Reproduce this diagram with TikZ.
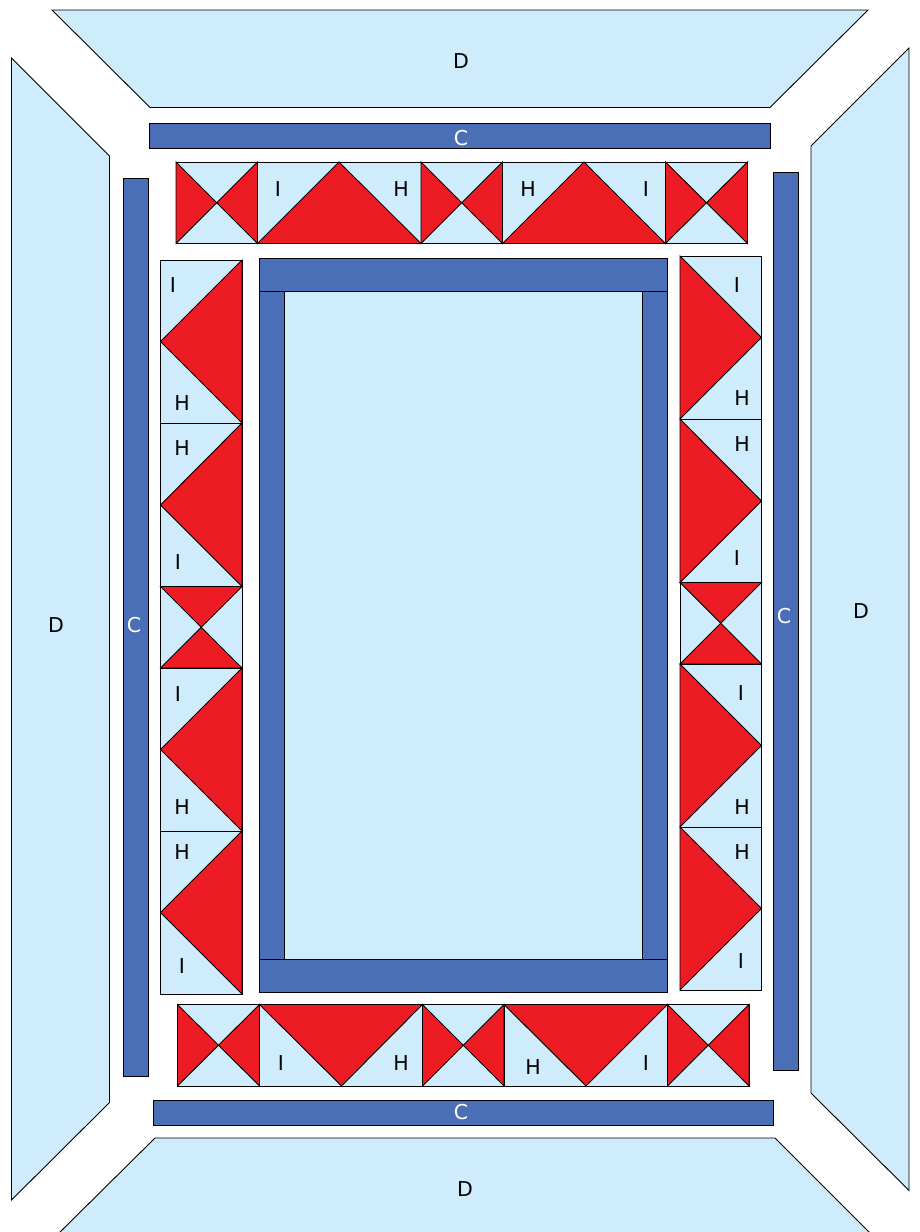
\documentclass[tikz,border=0pt]{standalone}
\usepackage{fontspec}
\setmainfont{DejaVu Sans}
\definecolor{palefill}{HTML}{CFECFD}
\definecolor{redfill}{HTML}{ED1C24}
\definecolor{bluefill}{HTML}{4A6FB6}
\tikzset{
  palepart/.style={draw=black,line width=0.9pt,line join=miter,fill=palefill},
  redpart/.style={draw=black,line width=0.9pt,line join=miter,fill=redfill},
  bluepart/.style={draw=black,line width=0.9pt,fill=bluefill},
  darklabel/.style={font=\fontsize{20.5}{22}\selectfont,text=black,inner sep=0pt},
  lightlabel/.style={font=\fontsize{20.5}{22}\selectfont,text=white,inner sep=0pt}
}
% #1,#2 top-left, #3,#4 bottom-right
\newcommand{\bowtiesides}[4]{%
  \path[palepart] (#1,#2) rectangle (#3,#4);
  \path[redpart] (#1,#2) -- ({(#1+#3)/2},{(#2+#4)/2}) -- (#1,#4) -- cycle;
  \path[redpart] (#3,#2) -- ({(#1+#3)/2},{(#2+#4)/2}) -- (#3,#4) -- cycle;}
\newcommand{\bowtieends}[4]{%
  \path[palepart] (#1,#2) rectangle (#3,#4);
  \path[redpart] (#1,#2) -- ({(#1+#3)/2},{(#2+#4)/2}) -- (#3,#2) -- cycle;
  \path[redpart] (#1,#4) -- ({(#1+#3)/2},{(#2+#4)/2}) -- (#3,#4) -- cycle;}
% #5,#6 apex; #7,#8 and #9 base corners
\newcommand{\goose}[8]{%
  \path[palepart] (#1,#2) rectangle (#3,#4);
  \path[redpart] (#5,#6) -- (#7) -- (#8) -- cycle;}
\begin{document}
\begin{tikzpicture}[x=1pt,y=-1pt]
\useasboundingbox (0,0) rectangle (919,1232);
\clip (0,0) rectangle (919,1232);
% outer border
\path[palepart] (52,10) -- (868,10) -- (770,107.5) -- (150,107.5) -- cycle;
\path[palepart] (11.5,58) -- (109.5,156) -- (109.5,1102.5) -- (11.5,1200) -- cycle;
\path[palepart] (909,48) -- (811,146) -- (811,1093) -- (909,1190.5) -- cycle;
\path[palepart] (155,1138) -- (775,1138) -- (877,1240) -- (52,1240) -- cycle;
% strips
\path[bluepart] (149.5,123.5) rectangle (770,148);
\path[bluepart] (123.5,178.5) rectangle (148,1076);
\path[bluepart] (773.5,172.5) rectangle (798.5,1070);
\path[bluepart] (153,1100.5) rectangle (773.5,1125);
% top row
\bowtiesides{176}{162}{257.5}{243.5}
\goose{257.5}{162}{421}{243.5}{339}{162}{257.5,243.5}{421,243.5}
\bowtiesides{421}{162}{502.5}{243.5}
\goose{502.5}{162}{665.5}{243.5}{584}{162}{502.5,243.5}{665.5,243.5}
\bowtiesides{665.5}{162}{747.5}{243.5}
% bottom row
\bowtiesides{177.5}{1004.5}{259.5}{1086}
\goose{259.5}{1004.5}{422.5}{1086}{341.5}{1086}{259.5,1004.5}{422.5,1004.5}
\bowtiesides{422.5}{1004.5}{504}{1086}
\goose{504}{1004.5}{667.5}{1086}{586}{1086}{504,1004.5}{667.5,1004.5}
\bowtiesides{667.5}{1004.5}{749}{1086}
% left column
\goose{160.5}{260}{242}{423}{160.5}{341.5}{242,260}{242,423}
\goose{160.5}{423}{242}{586.5}{160.5}{505}{242,423}{242,586.5}
\bowtieends{160.5}{586.5}{242}{668}
\goose{160.5}{668}{242}{831}{160.5}{749.5}{242,668}{242,831}
\goose{160.5}{831}{242}{994}{160.5}{912.5}{242,831}{242,994}
% right column
\goose{680}{256}{761.5}{419}{761.5}{337.5}{680,256}{680,419}
\goose{680}{419}{761.5}{582.5}{761.5}{501}{680,419}{680,582.5}
\bowtieends{680}{582.5}{761.5}{664}
\goose{680}{664}{761.5}{827}{761.5}{745.5}{680,664}{680,827}
\goose{680}{827}{761.5}{990}{761.5}{908.5}{680,827}{680,990}
% centre frame
\path[palepart] (284,291) rectangle (642.5,959.5);
\path[bluepart] (259,291) rectangle (284,959.5);
\path[bluepart] (642.5,291) rectangle (667.5,959.5);
\path[bluepart] (259,258) rectangle (667.5,291);
\path[bluepart] (259,959.5) rectangle (667.5,992.5);
% labels
\node[darklabel] (dt) at (461,61) {D};
\node[darklabel] (dl) at (56,625) {D};
\node[darklabel] (dr) at (861,611) {D};
\node[darklabel] (db) at (465,1189) {D};
\node[lightlabel] (ct) at (461,138) {C};
\node[lightlabel] (cl) at (134,625) {C};
\node[lightlabel] (cr) at (784,616) {C};
\node[lightlabel] (cb) at (461,1112) {C};
\node[darklabel] (t1) at (278,189) {I};
\node[darklabel] (t2) at (401,189) {H};
\node[darklabel] (t3) at (528,189) {H};
\node[darklabel] (t4) at (646,189) {I};
\node[darklabel] (b1) at (281,1063) {I};
\node[darklabel] (b2) at (401,1063) {H};
\node[darklabel] (b3) at (533,1067) {H};
\node[darklabel] (b4) at (646,1063) {I};
\node[darklabel] (l1) at (173,285) {I};
\node[darklabel] (l2) at (182,403) {H};
\node[darklabel] (l3) at (182,448) {H};
\node[darklabel] (l4) at (178,562) {I};
\node[darklabel] (l5) at (178,694) {I};
\node[darklabel] (l6) at (182,807) {H};
\node[darklabel] (l7) at (182,852) {H};
\node[darklabel] (l8) at (182,966) {I};
\node[darklabel] (r1) at (737,285) {I};
\node[darklabel] (r2) at (742,398) {H};
\node[darklabel] (r3) at (742,444) {H};
\node[darklabel] (r4) at (737,558) {I};
\node[darklabel] (r5) at (741,693) {I};
\node[darklabel] (r6) at (742,807) {H};
\node[darklabel] (r7) at (742,852) {H};
\node[darklabel] (r8) at (741,961) {I};
\end{tikzpicture}
\end{document}
